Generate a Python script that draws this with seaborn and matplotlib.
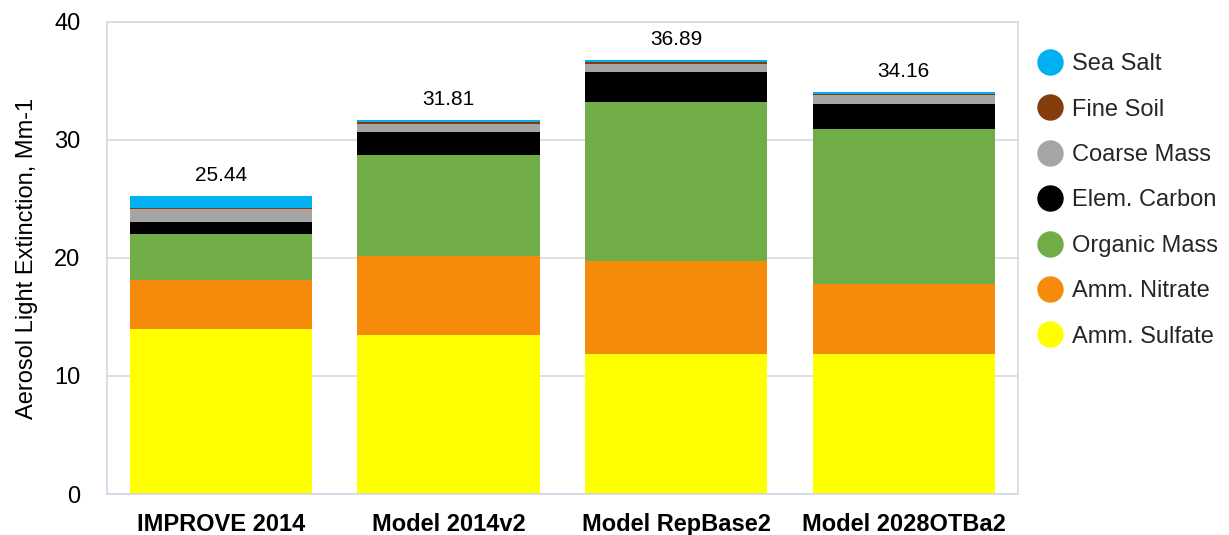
import matplotlib
matplotlib.use("Agg")
import matplotlib.pyplot as plt
import seaborn as sns
import pandas as pd
import numpy as np
from matplotlib.lines import Line2D

sns.set_theme(style="white")
plt.rcParams['font.family'] = ['Liberation Sans', 'DejaVu Sans']

categories = ["IMPROVE 2014", "Model 2014v2", "Model RepBase2", "Model 2028OTBa2"]
amm_sulfate = [13.95, 13.47, 11.86, 11.86]
amm_nitrate = [4.18, 6.73, 7.89, 5.96]
organic_mass = [3.87, 8.53, 13.44, 13.14]
elem_carbon = [1.05, 1.92, 2.54, 2.09]
coarse_mass = [1.07, 0.71, 0.73, 0.73]
fine_soil = [0.14, 0.17, 0.14, 0.14]
sea_salt = [0.99, 0.17, 0.17, 0.17]
total_labels = ["25.44", "31.81", "36.89", "34.16"]

components = [
    ("Amm. Sulfate", amm_sulfate, "#FFFF00"),
    ("Amm. Nitrate", amm_nitrate, "#F68B0B"),
    ("Organic Mass", organic_mass, "#70AD47"),
    ("Elem. Carbon", elem_carbon, "#000000"),
    ("Coarse Mass", coarse_mass, "#A5A5A5"),
    ("Fine Soil", fine_soil, "#843C0C"),
    ("Sea Salt", sea_salt, "#00B0F0"),
]

fig = plt.figure(figsize=(12.29, 5.35), dpi=100)
ax = fig.add_axes([0.087, 0.0766, 0.741, 0.8825])

bottom = np.zeros(len(categories))
for name, vals, col in components:
    df = pd.DataFrame({"cat": categories, "val": vals})
    sns.barplot(data=df, x="cat", y="val", color=col, bottom=bottom,
                width=0.8, ax=ax, saturation=1, linewidth=0, errorbar=None)
    bottom = bottom + np.array(vals)

for i, (tot, lab) in enumerate(zip(bottom, total_labels)):
    ax.annotate(lab, xy=(i, tot), xytext=(0, 8), textcoords="offset points",
                ha="center", va="bottom", fontsize=15, color="#000000")

ax.set_xlim(-0.5, len(categories) - 0.5)
ax.set_ylim(0, 40)
ax.set_yticks([0, 10, 20, 30, 40])
ax.yaxis.grid(True, color="#D9D9D9", linewidth=1.2)
ax.set_axisbelow(True)
for s in ax.spines.values():
    s.set_color("#D9D9D9")
    s.set_linewidth(1.2)
ax.spines['bottom'].set_color("#D0D7E5")
ax.spines['left'].set_color("#D0D7E5")
ax.tick_params(axis="y", length=0, pad=19, labelsize=17, labelcolor="#000000")
ax.tick_params(axis="x", length=0, pad=14, labelsize=17, labelcolor="#000000")
for t in ax.get_xticklabels():
    t.set_fontweight("bold")
ax.set_xlabel("")
ax.set_ylabel("Aerosol Light Extinction, Mm-1", fontsize=17, color="#000000", labelpad=12)

handles = [Line2D([], [], marker="o", linestyle="none", markersize=18,
                  markerfacecolor=col, markeredgecolor=col, label=name)
           for name, vals, col in components[::-1]]
fig.legend(handles=handles, loc="upper left", bbox_to_anchor=(0.835, 0.918),
           frameon=False, fontsize=17, handletextpad=0.35, labelspacing=0.99,
           borderaxespad=0, handlelength=1.2)

fig.savefig("out.png", dpi=100)
